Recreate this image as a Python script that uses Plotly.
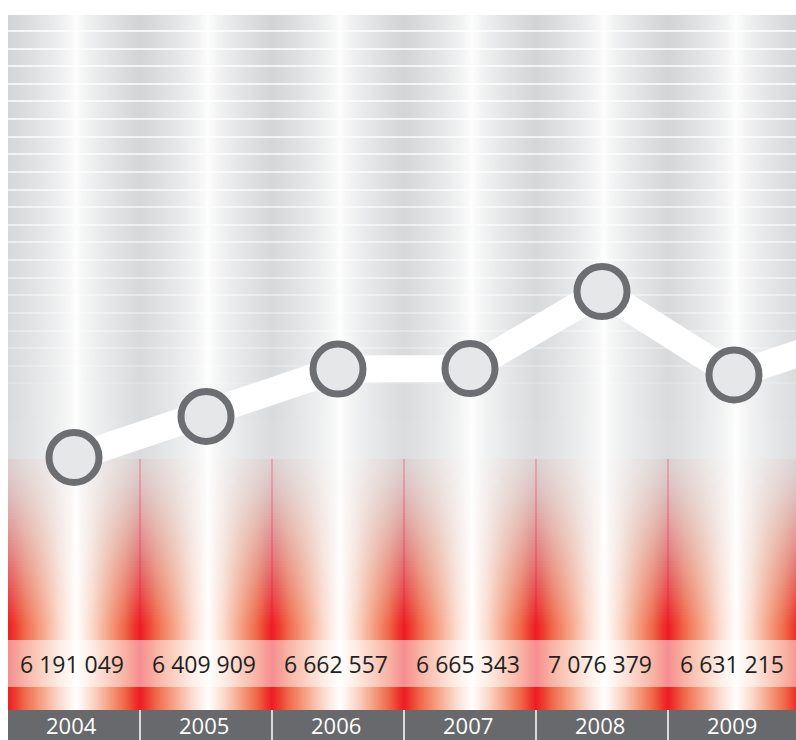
import numpy as np
import plotly.graph_objects as go

# ---- data -------------------------------------------------------------
years = ["2004", "2005", "2006", "2007", "2008", "2009"]
values = [6191049, 6409909, 6662557, 6665343, 7076379, 6631215]
# the line keeps running toward the following year, past the right edge
next_year = "2010"
next_value = 6866000

# ---- geometry (pixels of the 796x740 canvas) ---------------------------
W, H = 796, 740
LEFT, TOP = 8, 15
COL_W = 132
FIRST_CENTER = 74
PEAK = 68                      # white highlight offset inside a column
RED_TOP, RED_FULL = 459, 625
BAND_TOP, BAND_BOTTOM = 640, 687
BAR_TOP = 710

GRAY_DARK = "rgb(209,211,213)"
RED = "rgb(237,28,36)"
RING = "#6d6e71"
MARKER_FILL = "#e6e7e8"
BAR = "#68696c"
INK = "#231f20"
FONT = "Open Sans"

# value axis calibration: value at top and bottom of the canvas
V_TOP, V_BOTTOM = 8.6320e6, 4.6832e6
X_RANGE = [-FIRST_CENTER / COL_W, (W - FIRST_CENTER) / COL_W]

# ---- horizontal profile of each column ---------------------------------
xe = np.arange(LEFT, W + 1)
xc = xe[:-1] + 0.5
local = (xc - LEFT) % COL_W
d = np.where(local < PEAK, (PEAK - local) / PEAK, (local - PEAK) / (COL_W - PEAK))
light = 1 - 0.75 * d ** 0.6 - 0.25 * d

fig = go.Figure()

# metallic gray background with fading white rules
grid_y = [round(31 + 17.62 * k) for k in range(21)]
rows = []
y = TOP
for k, gy in enumerate(grid_y):
    rows.append((y, gy - 1, 0.0))
    rows.append((gy - 1, gy + 1, 0.75 - 0.6 * (k / 20) ** 2))
    y = gy + 1
for y1 in (420, RED_TOP, 540, RED_FULL, BAR_TOP):
    rows.append((y, y1, 0.0))
    y = y1

edges = [rows[0][0]] + [r[1] for r in rows]
z_gray = []
for y0, y1, a in rows:
    s = min(max(((y0 + y1) / 2 - TOP) / (RED_TOP - TOP), 0), 1)
    base = 1 - (1 - light) * (1 - 0.2 * s)
    z_gray.append(base + a * (1 - base))

fig.add_trace(go.Heatmap(
    x=xe, y=edges, z=np.array(z_gray), zmin=0, zmax=1,
    colorscale=[[0, GRAY_DARK], [1, "rgb(255,255,255)"]],
    showscale=False, hoverinfo="skip"))

# red glow rising from the bottom of each column
red_scale = [[0, "rgb(255,255,255)"], [0.25, "rgb(251,217,203)"],
             [0.5, "rgb(246,163,135)"], [0.75, "rgb(241,106,76)"],
             [0.9, "rgb(238,58,46)"], [1, RED]]
steps = list(range(RED_TOP, RED_FULL, 3)) + [RED_FULL]
for y0, y1 in zip(steps[:-1], steps[1:]):
    t = ((y0 + y1) / 2 - RED_TOP) / (RED_FULL - RED_TOP)
    fig.add_trace(go.Heatmap(
        x=xe, y=[y0, y1], z=[d], zmin=0, zmax=1, colorscale=red_scale,
        showscale=False, hoverinfo="skip", opacity=0.06 + 0.94 * t ** 1.35))
fig.add_trace(go.Heatmap(
    x=xe, y=[RED_FULL, BAR_TOP], z=[d], zmin=0, zmax=1, colorscale=red_scale,
    showscale=False, hoverinfo="skip"))

# the series: thick white line with ringed markers
fig.add_trace(go.Scatter(
    x=years + [next_year], y=values + [next_value], mode="lines",
    line=dict(color="white", width=27), xaxis="x2", yaxis="y2",
    hoverinfo="skip"))
fig.add_trace(go.Scatter(
    x=years, y=values, mode="markers",
    marker=dict(size=50, color=MARKER_FILL, line=dict(color=RING, width=7)),
    xaxis="x2", yaxis="y2", hoverinfo="skip"))

shapes = [
    dict(type="rect", xref="x", yref="y", x0=LEFT, x1=W, y0=BAND_TOP,
         y1=BAND_BOTTOM, fillcolor="white", opacity=0.5, line_width=0,
         layer="above"),
    dict(type="rect", xref="x", yref="y", x0=LEFT, x1=W, y0=BAR_TOP, y1=H,
         fillcolor=BAR, line_width=0, layer="above"),
]
for i in range(len(years) - 1):
    shapes.append(dict(type="line", xref="x2", yref="y", x0=i + 0.5, x1=i + 0.5,
                       y0=RED_TOP, y1=BAND_TOP,
                       line=dict(color="rgba(237,28,36,0.45)", width=1),
                       layer="above"))
    shapes.append(dict(type="line", xref="x2", yref="y", x0=i + 0.5, x1=i + 0.5,
                       y0=BAR_TOP, y1=H, line=dict(color="white", width=1.5),
                       layer="above"))


def paper_x(index):
    """Category index on the year axis -> fraction of the plot width."""
    return (index - X_RANGE[0]) / (X_RANGE[1] - X_RANGE[0])


def paper_y(px):
    return 1 - px / H


annotations = []
for i, (yr, v) in enumerate(zip(years, values)):
    annotations.append(dict(
        x=paper_x(i) - 2 / W, y=paper_y((BAND_TOP + BAND_BOTTOM) / 2),
        xref="paper", yref="paper", xanchor="center", yanchor="middle",
        text=f"{v:,}".replace(",", " "), showarrow=False, borderpad=0,
        font=dict(family=FONT, size=23, color=INK)))
    annotations.append(dict(
        x=paper_x(i) - 2 / W, y=paper_y((BAR_TOP + H) / 2),
        xref="paper", yref="paper", xanchor="center", yanchor="middle",
        text=yr, showarrow=False, borderpad=0,
        font=dict(family=FONT, size=22, color="white")))

fig.update_layout(
    width=W, height=H, margin=dict(l=0, r=0, t=0, b=0),
    paper_bgcolor="white", plot_bgcolor="white",
    showlegend=False, hovermode=False,
    xaxis=dict(range=[0, W], visible=False),
    yaxis=dict(range=[H, 0], visible=False),
    xaxis2=dict(type="category", categoryorder="array",
                categoryarray=years + [next_year], range=X_RANGE,
                overlaying="x", anchor="y2", visible=False),
    yaxis2=dict(range=[V_BOTTOM, V_TOP], overlaying="y", anchor="x2",
                visible=False),
    shapes=shapes, annotations=annotations,
)

fig.write_html("out.html")
